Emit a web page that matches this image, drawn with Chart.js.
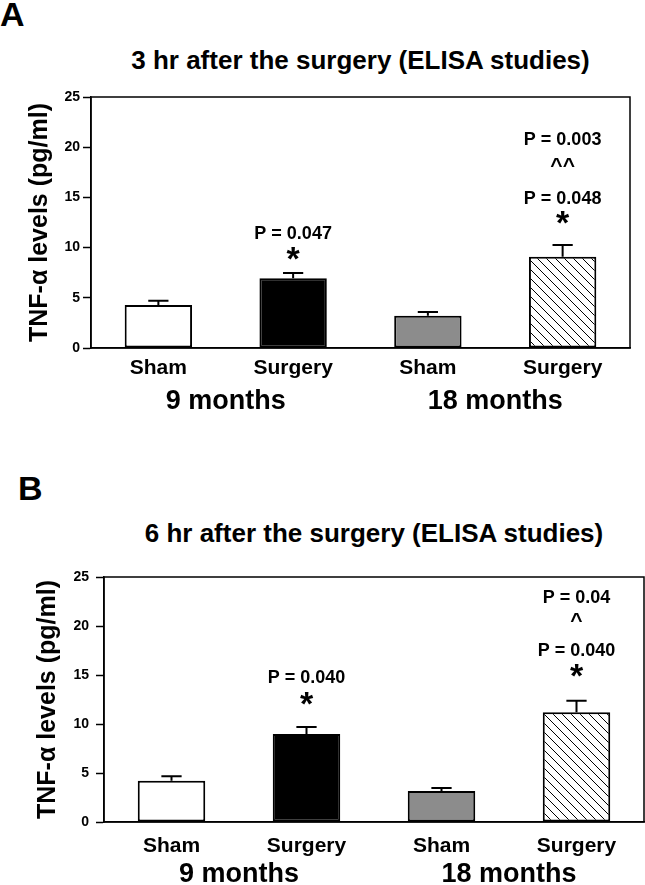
<!DOCTYPE html>
<html>
<head>
<meta charset="utf-8">
<script src="https://cdn.jsdelivr.net/npm/chart.js@4/dist/chart.umd.min.js"></script>
<style>
  html, body { margin: 0; padding: 0; background: #ffffff; }
  body { width: 645px; height: 885px; position: relative; overflow: hidden; font-family: "Liberation Sans", Arial, sans-serif; }
  .wrap { position: absolute; left: 0; width: 645px; }
  .letter { position: absolute; font-weight: bold; font-size: 34px; line-height: 34px; color: #000; }
  .title { position: absolute; font-weight: bold; font-size: 26px; line-height: 30px; color: #000; text-align: center; white-space: nowrap; }
</style>
</head>
<body>
<div class="letter" style="left:0px; top:-3px;">A</div>
<div class="title" style="left:91px; width:539px; top:45px;">3 hr after the surgery (ELISA studies)</div>
<div class="wrap" style="top:0px; height:432px;"><canvas id="chartA" width="645" height="432"></canvas></div>

<div class="letter" style="left:18px; top:471px;">B</div>
<div class="title" style="left:104px; width:540px; top:518px;">6 hr after the surgery (ELISA studies)</div>
<div class="wrap" style="top:440px; height:445px;"><canvas id="chartB" width="645" height="445"></canvas></div>

<script>
// ---------- data ----------
const categories = ['Sham', 'Surgery', 'Sham', 'Surgery'];
const ageGroups = ['9 months', '18 months'];
const yTicksMax = 25;
const yTickStep = 5;

// Panel A: 3 hr after surgery
const valuesA = [4.28, 6.94, 3.22, 9.10];
const errorsA = [0.42, 0.53, 0.36, 1.16];
const annTextA = ['P = 0.047', '*', 'P = 0.003', '^^', 'P = 0.048', '*'];
const annBarA  = [1, 1, 3, 3, 3, 3];
const annYA    = [11.55, 9.46, 20.9, 18.5, 15.0, 13.0];

// Panel B: 6 hr after surgery
const valuesB = [4.21, 8.98, 3.16, 11.19];
const errorsB = [0.45, 0.71, 0.31, 1.19];
const annTextB = ['P = 0.040', '*', 'P = 0.04', '^', 'P = 0.040', '*'];
const annBarB  = [1, 1, 3, 3, 3, 3];
const annYB    = [14.8, 12.65, 22.96, 20.9, 17.65, 15.5];

// ---------- styles ----------
const FONT = '"Liberation Sans", Arial, sans-serif';

function hatchPattern() {
  const s = 9;
  const c = document.createElement('canvas');
  c.width = s; c.height = s;
  const g = c.getContext('2d');
  g.fillStyle = '#ffffff';
  g.fillRect(0, 0, s, s);
  g.strokeStyle = '#000000';
  g.lineWidth = 1;
  g.beginPath();
  for (const d of [-s, 0, s]) {
    g.moveTo(d, 0);
    g.lineTo(d + s, s);
  }
  g.stroke();
  return g.createPattern(c, 'repeat');
}

const frameErrAnnPlugin = {
  id: 'frameErrAnn',
  afterDatasetsDraw(chart, args, opts) {
    const ctx = chart.ctx;
    const ca = chart.chartArea;
    const yS = chart.scales.y;
    const meta = chart.getDatasetMeta(0);
    ctx.save();
    // error bars (upper)
    ctx.strokeStyle = '#000';
    ctx.lineWidth = 2;
    opts.values.forEach((v, i) => {
      const bar = meta.data[i];
      const x = bar.x;
      const y0 = yS.getPixelForValue(v);
      const y1 = yS.getPixelForValue(v + opts.errors[i]);
      const cap = bar.width * 0.3;
      ctx.beginPath();
      ctx.moveTo(x, y0);
      ctx.lineTo(x, y1);
      ctx.moveTo(x - cap / 2, y1);
      ctx.lineTo(x + cap / 2, y1);
      ctx.stroke();
    });
    // frame
    ctx.lineWidth = 1.5;
    ctx.strokeRect(ca.left, ca.top, ca.right - ca.left, ca.bottom - ca.top);
    // annotations
    ctx.fillStyle = '#000';
    ctx.textAlign = 'center';
    ctx.textBaseline = 'alphabetic';
    opts.texts.forEach((t, k) => {
      const bar = meta.data[opts.bars[k]];
      const size = t === '*' ? 34 : (t.startsWith('^') ? 21 : 18);
      ctx.font = 'bold ' + size + 'px ' + FONT;
      const m = ctx.measureText(t);
      const yc = yS.getPixelForValue(opts.ys[k]);
      const yd = yc + (m.actualBoundingBoxAscent - m.actualBoundingBoxDescent) / 2;
      ctx.fillText(t, bar.x, yd);
    });
    ctx.restore();
  }
};

function makeChart(id, values, errors, texts, bars, ys, geom) {
  const ctx = document.getElementById(id).getContext('2d');
  return new Chart(ctx, {
    type: 'bar',
    data: {
      labels: categories,
      datasets: [{
        data: values,
        backgroundColor: ['#ffffff', '#000000', '#8c8c8c', hatchPattern()],
        borderColor: '#000000',
        borderWidth: 2,
        borderSkipped: false,
        barPercentage: 0.5,
        categoryPercentage: 1.0
      }]
    },
    options: {
      responsive: false,
      devicePixelRatio: 1,
      animation: false,
      events: [],
      layout: { padding: { top: geom.top, right: geom.right, left: 0, bottom: 0 } },
      plugins: {
        legend: { display: false },
        tooltip: { enabled: false },
        title: { display: false },
        frameErrAnn: { values: values, errors: errors, texts: texts, bars: bars, ys: ys }
      },
      scales: {
        x: {
          type: 'category',
          position: 'bottom',
          grid: { display: false, drawTicks: false },
          border: { display: true, color: '#000', width: 1.5 },
          ticks: { color: '#000', font: { family: FONT, size: 21, weight: 'bold' }, padding: geom.xPad, maxRotation: 0, autoSkip: false },
          afterFit(scale) { scale.height = geom.xH; }
        },
        x2: {
          type: 'category',
          position: 'bottom',
          labels: ageGroups,
          offset: true,
          grid: { display: false, drawTicks: false },
          border: { display: false },
          ticks: { color: '#000', font: { family: FONT, size: 27, weight: 'bold' }, padding: geom.x2Pad, maxRotation: 0, autoSkip: false },
          afterFit(scale) { scale.height = geom.x2H; }
        },
        y: {
          min: 0,
          max: yTicksMax,
          grid: { drawOnChartArea: false, drawTicks: true, tickLength: 8, tickColor: '#000', tickWidth: 1.5 },
          border: { display: true, color: '#000', width: 1.5 },
          ticks: { stepSize: yTickStep, color: '#000', font: { family: FONT, size: 14, weight: 'bold' }, padding: geom.yPad },
          title: { display: true, text: 'TNF-α levels (pg/ml)', color: '#000', font: { family: FONT, size: 25, weight: 'bold' }, padding: { top: geom.titlePad, bottom: 0 } },
          afterFit(scale) { scale.width = geom.left; }
        }
      }
    },
    plugins: [frameErrAnnPlugin]
  });
}

makeChart('chartA', valuesA, errorsA, annTextA, annBarA, annYA,
  { top: 97, right: 15, left: 91, xH: 36, x2H: 48, xPad: 8, x2Pad: 1, yPad: 3, titlePad: 25 });
makeChart('chartB', valuesB, errorsB, annTextB, annBarB, annYB,
  { top: 137, right: 1, left: 104, xH: 36, x2H: 27, xPad: 12, x2Pad: 0, yPad: 7, titlePad: 33 });
</script>
</body>
</html>
